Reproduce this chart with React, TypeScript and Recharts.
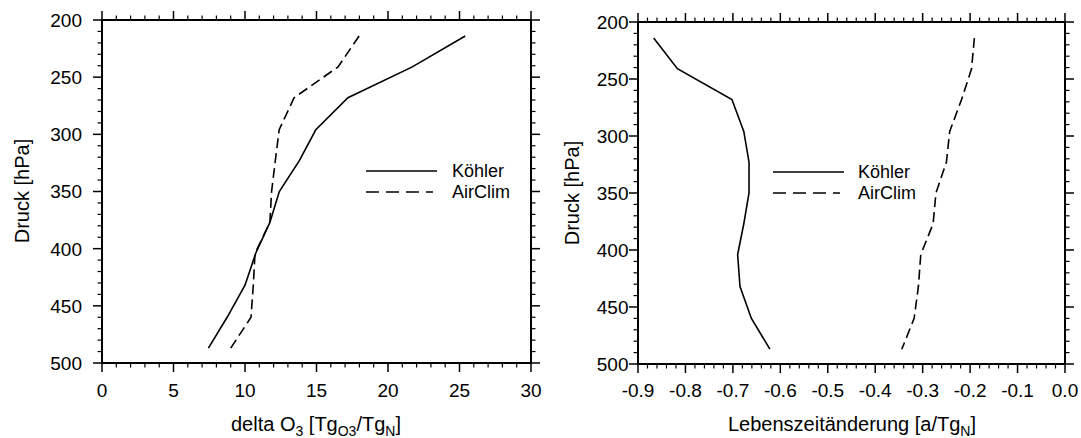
import React from 'react';
import { ScatterChart, Scatter, XAxis, YAxis } from 'recharts';

// model levels (hPa), shared by every profile
const pressureLevels = [214, 241, 268, 296, 323, 350, 377, 404, 432, 460, 487];

// delta O3 [Tg O3 / Tg N]
const ozoneKoehler = [25.4, 21.7, 17.2, 14.95, 13.8, 12.4, 11.74, 10.75, 10.0, 8.75, 7.44];
const ozoneAirClim = [17.98, 16.51, 13.43, 12.39, 12.12, 11.86, 11.74, 10.7, 10.58, 10.42, 9.0];

// Lebenszeitaenderung [a / Tg N]
const lifetimeKoehler = [-0.867, -0.817, -0.702, -0.677, -0.666, -0.666, -0.677, -0.69, -0.685, -0.661, -0.622];
const lifetimeAirClim = [-0.191, -0.197, -0.218, -0.243, -0.25, -0.272, -0.278, -0.304, -0.309, -0.318, -0.344];

const pressureTicks = [200, 250, 300, 350, 400, 450, 500];
const ozoneTicks = [0, 5, 10, 15, 20, 25, 30];
const lifetimeTicks = [-0.9, -0.8, -0.7, -0.6, -0.5, -0.4, -0.3, -0.2, -0.1, 0.0];

const FONT = '"Liberation Sans", Arial, Helvetica, sans-serif';

// minor tick positions
const steps = (from: number, to: number, step: number) => {
  const out: number[] = [];
  const n = Math.round((to - from) / step);
  for (let i = 0; i <= n; i++) out.push(Math.round((from + i * step) * 1000) / 1000);
  return out;
};

const toPoints = (vals: number[]) => pressureLevels.map((p, i) => ({ p, v: vals[i] }));

type Side = 'bottom' | 'top' | 'left' | 'right';

const makeTick =
  (side: Side, majors: number[], len: number, gap: number, fmt?: (v: number) => string) =>
  (props: any) => {
    const { x, y, payload } = props;
    const v = payload.value;
    const major = majors.some((m) => Math.abs(m - v) < 1e-6);
    const l = major ? len : len / 2;
    let x2 = x;
    let y2 = y;
    if (side === 'bottom') y2 = y + l;
    if (side === 'top') y2 = y - l;
    if (side === 'left') x2 = x - l;
    if (side === 'right') x2 = x + l;
    let label = null;
    if (fmt && major) {
      label =
        side === 'bottom' ? (
          <text x={x} y={y + gap} textAnchor="middle" fontSize={19} fontFamily={FONT} fill="#000">
            {fmt(v)}
          </text>
        ) : (
          <text x={x - gap} y={y} dy="0.36em" textAnchor="end" fontSize={19} fontFamily={FONT} fill="#000">
            {fmt(v)}
          </text>
        );
    }
    return (
      <g>
        <line x1={x} y1={y} x2={x2} y2={y2} stroke="#000" strokeWidth={major ? 1.5 : 1.2} />
        {label}
      </g>
    );
  };

const noDot = () => <g />;

type PanelProps = {
  left: number;
  width: number;
  margin: { top: number; right: number; bottom: number; left: number };
  yWidth: number;
  yGap: number;
  xGap: number;
  xDomain: [number, number];
  xMajor: number[];
  xMinor: number[];
  fmtX: (v: number) => string;
  solid: number[];
  dashed: number[];
};

const Panel = (p: PanelProps) => {
  const yMinor = steps(200, 500, 10);
  const axisLine = { stroke: '#000', strokeWidth: 2 };
  return (
    <div style={{ position: 'absolute', left: p.left, top: 0 }}>
      <ScatterChart width={p.width} height={438} margin={p.margin}>
        <XAxis
          xAxisId="b"
          type="number"
          dataKey="v"
          domain={p.xDomain}
          allowDataOverflow
          ticks={p.xMinor}
          interval={0}
          height={60}
          tickSize={0}
          tickMargin={0}
          tickLine={false}
          axisLine={axisLine}
          tick={makeTick('bottom', p.xMajor, 9, p.xGap, p.fmtX)}
        />
        <XAxis
          xAxisId="t"
          orientation="top"
          type="number"
          dataKey="v"
          domain={p.xDomain}
          allowDataOverflow
          ticks={p.xMinor}
          interval={0}
          height={10}
          tickSize={0}
          tickMargin={0}
          tickLine={false}
          axisLine={axisLine}
          tick={makeTick('top', p.xMajor, 9, 0)}
        />
        <YAxis
          yAxisId="l"
          type="number"
          dataKey="p"
          domain={[200, 500]}
          reversed
          allowDataOverflow
          ticks={yMinor}
          interval={0}
          width={p.yWidth}
          tickSize={0}
          tickMargin={0}
          tickLine={false}
          axisLine={axisLine}
          tick={makeTick('left', pressureTicks, 9, p.yGap, (v) => String(v))}
        />
        <YAxis
          yAxisId="r"
          orientation="right"
          type="number"
          dataKey="p"
          domain={[200, 500]}
          reversed
          allowDataOverflow
          ticks={yMinor}
          interval={0}
          width={10}
          tickSize={0}
          tickMargin={0}
          tickLine={false}
          axisLine={axisLine}
          tick={makeTick('right', pressureTicks, 9, 0)}
        />
        <Scatter
          name="Köhler"
          xAxisId="b"
          yAxisId="l"
          data={toPoints(p.solid)}
          fill="none"
          shape={noDot}
          line={{ stroke: '#000', strokeWidth: 1.6 }}
          isAnimationActive={false}
        />
        <Scatter
          name="AirClim"
          xAxisId="t"
          yAxisId="r"
          data={toPoints(p.dashed)}
          fill="none"
          shape={noDot}
          line={{ stroke: '#000', strokeWidth: 1.6, strokeDasharray: '10 5' }}
          isAnimationActive={false}
        />
      </ScatterChart>
    </div>
  );
};

const LegendBox = ({ x, y, textX }: { x: number; y: number; textX: number }) => (
  <g fontFamily={FONT} fontSize={18} fill="#000">
    <line x1={x} y1={y} x2={x + 71} y2={y} stroke="#000" strokeWidth={1.6} />
    <text x={textX} y={y} dy="0.36em">
      Köhler
    </text>
    <line x1={x} y1={y + 21} x2={x + 67} y2={y + 21} stroke="#000" strokeWidth={1.6} strokeDasharray="13 7" />
    <text x={textX} y={y + 21} dy="0.36em">
      AirClim
    </text>
  </g>
);

export default function App() {
  return (
    <div style={{ position: 'absolute', left: 0, top: 0, width: 1081, height: 438, background: '#fff' }}>
      <Panel
        left={0}
        width={560}
        margin={{ top: 10, right: 19, bottom: 15, left: 2 }}
        yWidth={100}
        yGap={20}
        xGap={34}
        xDomain={[0, 30]}
        xMajor={ozoneTicks}
        xMinor={steps(0, 30, 1)}
        fmtX={(v) => String(v)}
        solid={ozoneKoehler}
        dashed={ozoneAirClim}
      />
      <Panel
        left={560}
        width={521}
        margin={{ top: 12, right: 6, bottom: 14, left: 8 }}
        yWidth={70}
        yGap={9.5}
        xGap={33}
        xDomain={[-0.9, 0]}
        xMajor={lifetimeTicks}
        xMinor={steps(-0.9, 0, 0.02)}
        fmtX={(v) => (Math.abs(v) < 1e-9 ? '0.0' : v.toFixed(1))}
        solid={lifetimeKoehler}
        dashed={lifetimeAirClim}
      />
      <svg
        width={1081}
        height={438}
        style={{ position: 'absolute', left: 0, top: 0, pointerEvents: 'none' }}
      >
        <g fontFamily={FONT} fontSize={20} fill="#000">
          <text transform="translate(22,191) rotate(-90)" textAnchor="middle" dy="0.36em">
            Druck [hPa]
          </text>
          <text transform="translate(572,193) rotate(-90)" textAnchor="middle" dy="0.36em">
            Druck [hPa]
          </text>
          <text x={316} y={431} textAnchor="middle">
            delta O
            <tspan dy={5} fontSize={14}>3</tspan>
            <tspan dy={-5}> [Tg</tspan>
            <tspan dy={5} fontSize={14}>O3</tspan>
            <tspan dy={-5}>/Tg</tspan>
            <tspan dy={5} fontSize={14}>N</tspan>
            <tspan dy={-5}>]</tspan>
          </text>
          <text x={852} y={431} textAnchor="middle">
            Lebenszeitänderung [a/Tg
            <tspan dy={5} fontSize={14}>N</tspan>
            <tspan dy={-5}>]</tspan>
          </text>
        </g>
        <LegendBox x={366} y={171} textX={452} />
        <LegendBox x={773} y={172} textX={858} />
      </svg>
    </div>
  );
}
